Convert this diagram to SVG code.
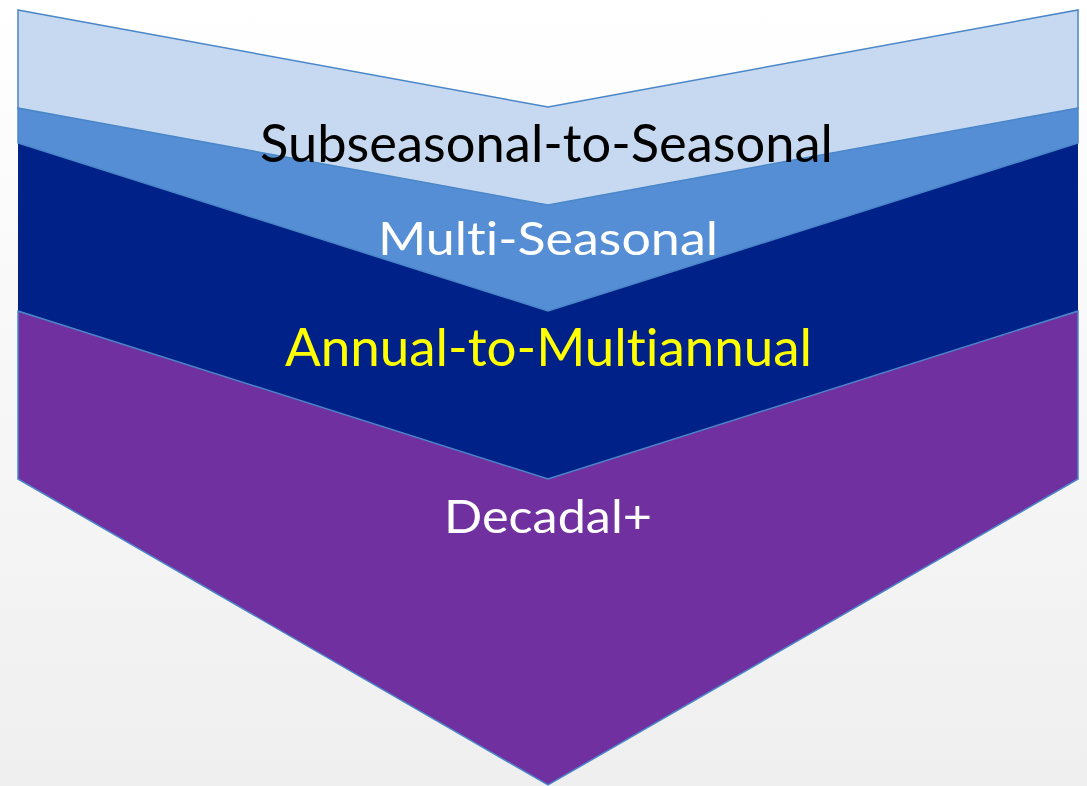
<svg xmlns="http://www.w3.org/2000/svg" width="1087" height="786" viewBox="0 0 1087 786">
  <defs>
    <linearGradient id="bg" x1="0" y1="0" x2="0" y2="1">
      <stop offset="0" stop-color="#ffffff"/>
      <stop offset="1" stop-color="#efefef"/>
    </linearGradient>
  </defs>
  <style>
    .shape { stroke: #4a86c8; stroke-width: 1.5; stroke-linejoin: miter; }
    .lbl { font-family: Lato, "Open Sans", "Liberation Sans", sans-serif; text-anchor: middle; font-variant-ligatures: none; font-feature-settings: "liga" 0, "clig" 0; }
    .big { font-size: 52px; }
    .small { font-size: 47px; }
  </style>
  <rect x="0" y="0" width="1087" height="786" fill="url(#bg)"/>
  <g id="decadal">
    <polygon class="shape" fill="#7030a0" points="18,311 548,474 1078,311 1078,479 548,785 18,479"/>
    <text class="lbl small" x="548" y="533" fill="#ffffff" textLength="208" lengthAdjust="spacingAndGlyphs">Decadal+</text>
  </g>
  <g id="annual">
    <polygon fill="#002288" points="18,143 548,306 1078,143 1078,311 548,479 18,311"/>
    <polyline class="shape" fill="none" points="18,311 548,479 1078,311"/>
    <text class="lbl big" x="548.5" y="365.5" fill="#ffff00" textLength="527" lengthAdjust="spacingAndGlyphs">Annual-to-Multiannual</text>
  </g>
  <g id="multiseasonal">
    <polygon class="shape" fill="#558ed5" points="18,108 548,200 1078,108 1078,143 548,311 18,143"/>
    <text class="lbl small" x="548" y="255" fill="#ffffff" textLength="340" lengthAdjust="spacingAndGlyphs">Multi-Seasonal</text>
  </g>
  <g id="subseasonal">
    <polygon class="shape" fill="#c6d9f1" points="18,10 548,107 1078,10 1078,108 548,205 18,108"/>
    <text class="lbl big" x="546.5" y="161.5" fill="#000000" textLength="573" lengthAdjust="spacingAndGlyphs">Subseasonal-to-Seasonal</text>
  </g>
  <g id="connectors"></g>
</svg>
